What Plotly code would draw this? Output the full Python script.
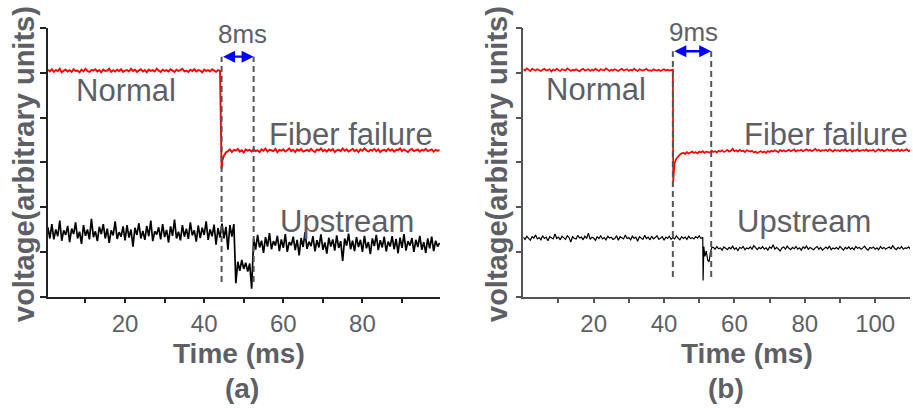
import numpy as np
import plotly.graph_objects as go

# ---------------- data: panel (a) ----------------
STEP = 0.5
red_a_seg1_t0, red_a_seg1_t1 = 0.5, 44.0
red_a_seg1 = [5.07,5.03,5.08,5.02,5.06,5.04,5.09,5.01,5.05,5.07,
              5.03,5.06,5.02,5.08,5.04,5.05,5.01,5.07,5.03,5.09,
              5.04,5.02,5.06,5.05,5.08,5.03,5.06,5.01,5.07,5.04,
              5.05,5.09,5.02,5.06,5.03,5.07,5.04,5.08,5.02,5.05,
              5.06,5.03,5.09,5.04,5.07,5.02,5.05,5.08,5.03,5.06,
              5.01,5.07,5.04,5.06,5.03,5.09,5.05,5.02,5.07,5.04,
              5.06,5.03,5.08,5.05,5.02,5.07,5.04,5.06,5.09,5.03,
              5.05,5.02,5.07,5.04,5.08,5.03,5.06,5.05,5.01,5.07,
              5.04,5.06,5.03,5.08,5.05,5.02,5.06,5.04]
red_a_drop_t = [44.4, 44.6, 45.0, 45.5]
red_a_drop = [2.85, 3.05, 3.15, 3.22]
red_a_seg3_t0, red_a_seg3_t1 = 46.0, 99.5
red_a_seg3 = [3.25,3.29,3.23,3.28,3.26,3.30,3.24,3.27,3.22,3.29,
              3.26,3.28,3.24,3.30,3.25,3.27,3.23,3.29,3.26,3.31,
              3.24,3.28,3.27,3.25,3.30,3.23,3.28,3.26,3.29,3.24,
              3.27,3.31,3.25,3.28,3.23,3.29,3.26,3.30,3.24,3.27,
              3.28,3.25,3.30,3.26,3.23,3.29,3.27,3.31,3.25,3.28,
              3.24,3.29,3.26,3.30,3.23,3.27,3.28,3.25,3.31,3.26,
              3.29,3.24,3.27,3.30,3.25,3.28,3.23,3.29,3.26,3.31,
              3.27,3.24,3.28,3.26,3.30,3.25,3.29,3.23,3.27,3.28,
              3.25,3.30,3.26,3.29,3.24,3.28,3.27,3.31,3.25,3.29,
              3.26,3.23,3.28,3.30,3.25,3.27,3.29,3.24,3.28,3.26,
              3.30,3.25,3.27,3.29,3.24,3.28,3.26,3.27]

blk_a_seg1_t0, blk_a_seg1_t1 = 0.5, 47.5
blk_a_seg1 = [1.55,1.30,1.62,1.28,1.50,1.35,1.70,1.25,1.48,1.38,
              1.58,1.22,1.52,1.40,1.66,1.30,1.45,1.18,1.60,1.36,
              1.50,1.28,1.74,1.33,1.46,1.24,1.56,1.40,1.62,1.30,
              1.52,1.20,1.48,1.37,1.68,1.29,1.44,1.34,1.57,1.26,
              1.60,1.32,1.50,1.12,1.54,1.38,1.64,1.30,1.47,1.27,
              1.58,1.35,1.70,1.24,1.46,1.39,1.55,1.28,1.62,1.33,
              1.49,1.21,1.57,1.36,1.72,1.30,1.45,1.26,1.60,1.34,
              1.52,1.29,1.66,1.37,1.48,1.23,1.59,1.31,1.54,1.38,
              1.68,1.27,1.50,1.35,1.61,1.16,1.53,1.32,1.63,1.30,
              1.56,1.05,1.60,1.34,1.62]
blk_a_seg2_t0, blk_a_seg2_t1 = 48.0, 52.0
blk_a_seg2 = [0.30,0.78,0.58,0.82,0.62,0.76,0.56,0.74,0.18]
blk_a_seg3_t0, blk_a_seg3_t1 = 52.5, 99.5
blk_a_seg3 = [1.30,1.05,1.38,1.10,1.25,0.98,1.33,1.12,1.42,1.06,
              1.24,1.14,1.36,1.02,1.28,1.09,1.40,1.00,1.22,1.15,
              1.34,1.04,1.27,0.92,1.31,1.11,1.44,1.07,1.23,1.13,
              1.35,1.01,1.26,1.10,1.39,1.05,1.21,0.96,1.32,1.12,
              1.28,1.03,1.37,1.09,1.24,0.80,1.30,1.14,1.41,1.06,
              1.25,1.02,1.33,1.11,1.27,1.00,1.36,1.08,1.22,0.95,
              1.30,1.13,1.38,1.04,1.26,1.10,1.34,1.01,1.23,1.12,
              1.35,1.06,1.29,0.97,1.32,1.09,1.40,1.03,1.24,1.14,
              1.31,1.00,1.27,1.11,1.36,1.05,1.22,0.98,1.30,1.08,
              1.34,1.02,1.25,1.12,1.20]

# ---------------- data: panel (b) ----------------
red_b_seg1_t0, red_b_seg1_t1 = 0.0, 42.5
red_b_seg1 = [5.08,5.05,5.10,5.06,5.04,5.09,5.07,5.05,5.08,5.06,
              5.04,5.07,5.09,5.05,5.06,5.08,5.03,5.07,5.05,5.09,
              5.06,5.04,5.08,5.07,5.05,5.10,5.06,5.04,5.07,5.05,
              5.08,5.06,5.03,5.07,5.09,5.05,5.06,5.08,5.04,5.07,
              5.05,5.09,5.06,5.04,5.08,5.07,5.05,5.10,5.06,5.04,
              5.07,5.05,5.08,5.06,5.04,5.07,5.09,5.05,5.06,5.08,
              5.04,5.07,5.05,5.09,5.06,5.04,5.08,5.06,5.05,5.07,
              5.09,5.05,5.06,5.04,5.08,5.06,5.05,5.07,5.04,5.06,
              5.08,5.05,5.07,5.05,5.06,5.07]
red_b_drop_t = [42.6, 42.8, 43.0, 43.5, 44.0, 44.5, 45.0]
red_b_drop = [2.55, 2.80, 2.98, 3.08, 3.14, 3.17, 3.20]
red_b_seg3_t0, red_b_seg3_t1 = 45.5, 110.0
red_b_seg3 = [3.21,3.19,3.23,3.20,3.22,3.24,3.21,3.23,3.20,3.24,
              3.22,3.25,3.21,3.24,3.23,3.22,3.26,3.23,3.25,3.22,
              3.26,3.24,3.27,3.23,3.25,3.28,3.24,3.26,3.30,3.25,
              3.27,3.24,3.28,3.25,3.26,3.23,3.27,3.25,3.24,3.26,
              3.22,3.24,3.21,3.23,3.25,3.22,3.24,3.21,3.25,3.23,
              3.26,3.24,3.27,3.25,3.23,3.28,3.25,3.27,3.24,3.26,
              3.28,3.25,3.27,3.29,3.24,3.27,3.26,3.28,3.25,3.27,
              3.29,3.26,3.28,3.25,3.27,3.30,3.26,3.28,3.25,3.27,
              3.26,3.28,3.25,3.29,3.27,3.24,3.28,3.26,3.27,3.25,
              3.28,3.26,3.29,3.25,3.27,3.28,3.24,3.27,3.26,3.29,
              3.25,3.27,3.28,3.26,3.29,3.25,3.27,3.26,3.28,3.24,
              3.27,3.29,3.26,3.28,3.25,3.27,3.29,3.26,3.28,3.25,
              3.27,3.26,3.29,3.25,3.28,3.26,3.27,3.29,3.25,3.27]

blk_b_seg1_t0, blk_b_seg1_t1 = 0.0, 51.0
blk_b_seg1 = [1.33,1.28,1.35,1.30,1.26,1.34,1.31,1.38,1.29,1.32,
              1.27,1.36,1.30,1.33,1.25,1.34,1.31,1.29,1.40,1.30,
              1.33,1.27,1.35,1.31,1.28,1.36,1.32,1.22,1.34,1.30,
              1.29,1.37,1.31,1.33,1.27,1.35,1.30,1.42,1.28,1.33,
              1.31,1.26,1.34,1.30,1.36,1.29,1.32,1.27,1.35,1.31,
              1.33,1.28,1.30,1.36,1.26,1.34,1.31,1.29,1.38,1.30,
              1.32,1.27,1.35,1.30,1.33,1.24,1.34,1.31,1.28,1.37,
              1.30,1.33,1.27,1.35,1.29,1.32,1.36,1.28,1.31,1.34,
              1.26,1.33,1.30,1.35,1.28,1.32,1.29,1.36,1.31,1.27,
              1.34,1.30,1.33,1.28,1.35,1.30,1.32,1.29,1.34,1.31,
              1.36,1.30,1.33]
blk_b_drop_t = [51.1, 51.3, 51.6, 52.0, 52.4, 52.8, 53.2, 53.6]
blk_b_drop = [0.36, 1.12, 0.90, 1.02, 0.82, 0.78, 1.00, 1.10]
blk_b_seg3_t0, blk_b_seg3_t1 = 54.0, 110.0
blk_b_seg3 = [1.10,1.06,1.12,1.07,1.09,1.04,1.11,1.08,1.05,1.10,
              1.07,1.13,1.06,1.09,1.03,1.10,1.08,1.12,1.05,1.09,
              1.07,1.11,1.06,1.14,1.08,1.05,1.10,1.07,1.12,1.06,
              1.09,1.04,1.11,1.08,1.16,1.06,1.10,1.07,1.02,1.09,
              1.11,1.06,1.13,1.08,1.05,1.10,1.07,1.12,1.06,1.09,
              1.04,1.11,1.08,1.13,1.06,1.10,1.07,1.05,1.09,1.12,
              1.06,1.10,1.04,1.08,1.11,1.07,1.13,1.05,1.09,1.07,
              1.10,1.06,1.12,1.08,1.04,1.10,1.07,1.11,1.06,1.09,
              1.05,1.12,1.08,1.10,1.06,1.09,1.13,1.07,1.04,1.10,
              1.08,1.11,1.06,1.09,1.05,1.12,1.07,1.10,1.06,1.09,
              1.11,1.07,1.14,1.08,1.05,1.10,1.07,1.12,1.06,1.09,
              1.08,1.11,1.07]

# event markers
gap_a = (44.4, 52.5)
gap_b = (42.5, 53.4)
x_ticks_a = [10, 20, 30, 40, 50, 60, 70, 80, 90]
x_ticks_b = [10, 20, 30, 40, 50, 60, 70, 80, 90, 100]
y_ticks = [0, 1, 2, 3, 4, 5, 6]


def tgrid(t0, t1):
    return list(np.arange(t0, t1 + STEP / 2, STEP))


def build(segs):
    t, v = [], []
    for ts, vs in segs:
        assert len(ts) == len(vs), (len(ts), len(vs))
        t += list(ts)
        v += list(vs)
    return t, v


red_a = build([(tgrid(red_a_seg1_t0, red_a_seg1_t1), red_a_seg1),
               (red_a_drop_t, red_a_drop),
               (tgrid(red_a_seg3_t0, red_a_seg3_t1), red_a_seg3)])
blk_a = build([(tgrid(blk_a_seg1_t0, blk_a_seg1_t1), blk_a_seg1),
               (tgrid(blk_a_seg2_t0, blk_a_seg2_t1), blk_a_seg2),
               (tgrid(blk_a_seg3_t0, blk_a_seg3_t1), blk_a_seg3)])
red_b = build([(tgrid(red_b_seg1_t0, red_b_seg1_t1), red_b_seg1),
               (red_b_drop_t, red_b_drop),
               (tgrid(red_b_seg3_t0, red_b_seg3_t1), red_b_seg3)])
blk_b = build([(tgrid(blk_b_seg1_t0, blk_b_seg1_t1), blk_b_seg1),
               (blk_b_drop_t, blk_b_drop),
               (tgrid(blk_b_seg3_t0, blk_b_seg3_t1), blk_b_seg3)])

W, H = 913, 411
FONT = "Liberation Sans, Arial, sans-serif"
GRAY = "#5e5f66"


def px(x):
    return x / W


def py(y):
    return (H - y) / H


fig = go.Figure()
fig.add_trace(go.Scatter(x=blk_a[0], y=blk_a[1], mode="lines",
                         line=dict(color="#000000", width=1.7), xaxis="x", yaxis="y"))
fig.add_trace(go.Scatter(x=red_a[0], y=red_a[1], mode="lines",
                         line=dict(color="#ff0000", width=1.9), xaxis="x", yaxis="y"))
fig.add_trace(go.Scatter(x=blk_b[0], y=blk_b[1], mode="lines",
                         line=dict(color="#000000", width=1.2), xaxis="x2", yaxis="y2"))
fig.add_trace(go.Scatter(x=red_b[0], y=red_b[1], mode="lines",
                         line=dict(color="#ff0000", width=1.7), xaxis="x2", yaxis="y2"))

ydom = [py(296.7), py(28)]
tickfont = dict(family=FONT, size=24, color=GRAY)


def xaxis(dom, rng, ticks, anchor, linecolor):
    return dict(domain=dom, range=rng, anchor=anchor, showgrid=False, zeroline=False,
                showline=True, linecolor=linecolor, linewidth=1.5,
                ticks="outside", ticklen=5, tickwidth=1.5, tickcolor=linecolor,
                tickvals=ticks, ticktext=[str(v) if v % 20 == 0 else "" for v in ticks],
                tickfont=tickfont)


def yaxis(anchor, linecolor):
    return dict(domain=ydom, range=[0, 6], anchor=anchor, showgrid=False, zeroline=False,
                showline=True, linecolor=linecolor, linewidth=1.5,
                ticks="outside", ticklen=6, tickwidth=1.5, tickcolor=linecolor,
                tickvals=y_ticks, showticklabels=False)


fig.update_layout(
    width=W, height=H, margin=dict(l=0, r=0, t=0, b=0),
    paper_bgcolor="white", plot_bgcolor="white", showlegend=False,
    xaxis=xaxis([px(47.7), px(440)], [0.45, 99.6], x_ticks_a, "y", "#222222"),
    yaxis=yaxis("x", "#222222"),
    xaxis2=xaxis([px(523.3), px(910)], [0, 109.9], x_ticks_b, "y2", "#555555"),
    yaxis2=yaxis("x2", "#555555"),
)

shapes = []
for xa, gap, ybot, ytop in [("x", gap_a, 0.33, 5.36), ("x2", gap_b, 0.44, 5.48)]:
    for gx in gap:
        shapes.append(dict(type="line", xref=xa, yref=xa.replace("x", "y"),
                           x0=gx, x1=gx, y0=ybot, y1=ytop,
                           line=dict(color="#555555", width=2, dash="6px,4px"), layer="above"))
fig.update_layout(shapes=shapes)

ann = []
lab = dict(family=FONT, size=31, color=GRAY)
for xa, items in [("x", [("Normal", 20.3, 4.60), ("Fiber failure", 77.2, 3.62),
                         ("Upstream", 76.2, 1.68), ("8ms", 49.8, 5.86)]),
                  ("x2", [("Normal", 20.8, 4.62), ("Fiber failure", 86.1, 3.62),
                          ("Upstream", 79.9, 1.68), ("9ms", 48.4, 5.90)])]:
    for text, x, y in items:
        f = dict(lab)
        if text.endswith("ms"):
            f["size"] = 26
        ann.append(dict(text=text, x=x, y=y, xref=xa, yref=xa.replace("x", "y"),
                        showarrow=False, xanchor="center", yanchor="middle", font=f))

# double-headed gap arrows
for xa, gap, y in [("x", gap_a, 5.36), ("x2", gap_b, 5.48)]:
    ya = xa.replace("x", "y")
    ann.append(dict(text="", x=gap[1], y=y, ax=gap[0], ay=y, xref=xa, yref=ya,
                    axref=xa, ayref=ya, showarrow=True, arrowside="end+start",
                    arrowhead=2, arrowsize=1.0, arrowwidth=2.4, arrowcolor="#0000ff",
                    standoff=0, startstandoff=0))

bold = dict(family=FONT, size=28, color=GRAY)
for cx, title in [(239, "Time (ms)"), (746.7, "Time (ms)")]:
    ann.append(dict(text="<b>%s</b>" % title, x=px(cx), y=py(353), xref="paper", yref="paper",
                    showarrow=False, xanchor="center", yanchor="middle", font=bold))
for cx, sub in [(241.7, "(a)"), (725.7, "(b)")]:
    ann.append(dict(text="<b>%s</b>" % sub, x=px(cx), y=py(388), xref="paper", yref="paper",
                    showarrow=False, xanchor="center", yanchor="middle", font=bold))
for cx in [24, 497]:
    ann.append(dict(text="<b>voltage(arbitrary units)</b>", x=px(cx), y=py(164),
                    xref="paper", yref="paper", showarrow=False, textangle=-90,
                    xanchor="center", yanchor="middle",
                    font=dict(family=FONT, size=29, color=GRAY)))
fig.update_layout(annotations=ann)

fig.write_html("out.html")
